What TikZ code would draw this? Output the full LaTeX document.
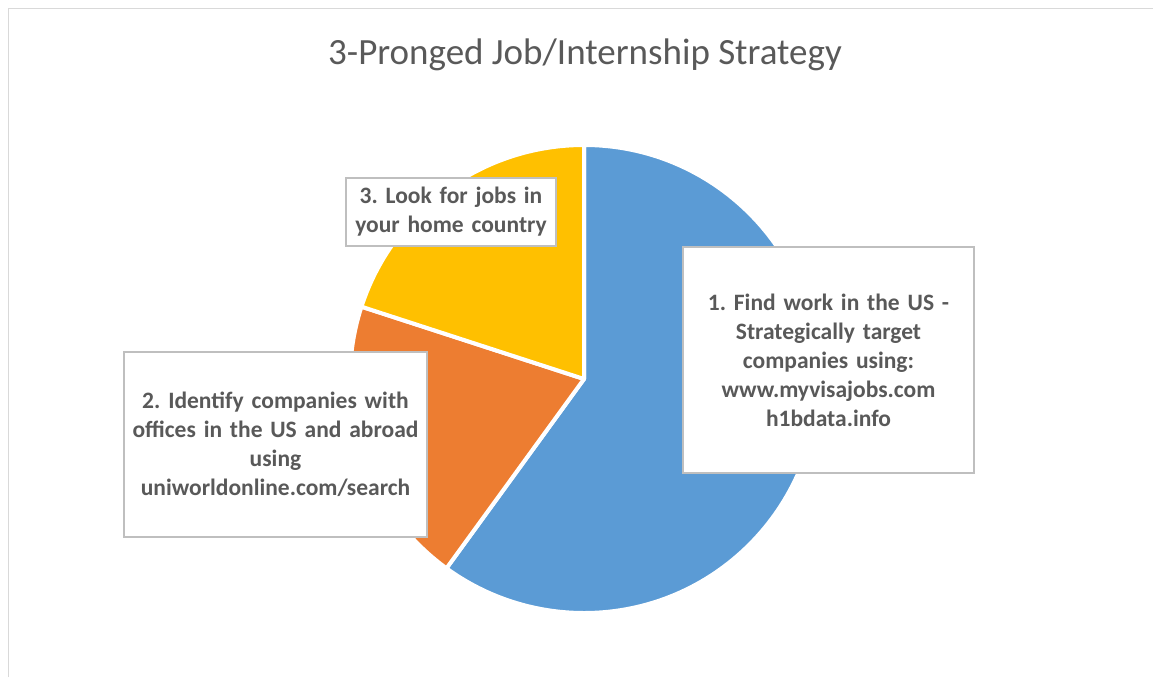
\documentclass[tikz,border=0pt]{standalone}
\usepackage{fontspec}
\setmainfont{Carlito}
\usetikzlibrary{positioning}
\frenchspacing

\definecolor{sliceblue}{HTML}{5B9BD5}
\definecolor{sliceorange}{HTML}{ED7D31}
\definecolor{sliceyellow}{HTML}{FFC000}
\definecolor{textgray}{HTML}{595959}
\definecolor{boxgray}{HTML}{BFBFBF}
\definecolor{framegray}{HTML}{D9D9D9}

\tikzset{
  slice/.style={draw=white, line width=4pt, line join=round},
  charttitle/.style={text=textgray, font=\fontsize{37}{44}\selectfont},
  lbl/.style={draw=boxgray, line width=1.5pt, fill=white, align=center,
    text=textgray, font=\bfseries\fontsize{23.5}{29}\selectfont, inner sep=0pt}
}

\begin{document}
\begin{tikzpicture}[x=1pt,y=-1pt]
\useasboundingbox (0,0) rectangle (1153,677);

% frame
\draw[framegray, line width=1.5pt] (8.5,677) -- (8.5,8.5) -- (1153,8.5);

% title
\node[charttitle] (title) at (585,55) {3-Pronged Job/Internship Strategy};

% slices
\begin{scope}[shift={(584,379)}, y=1pt]
\filldraw[slice, fill=sliceblue] (0,0) -- (90:234) arc[start angle=90, end angle=-126, radius=234] -- cycle;
\filldraw[slice, fill=sliceorange] (0,0) -- (234:234) arc[start angle=234, end angle=162, radius=234] -- cycle;
\filldraw[slice, fill=sliceyellow] (0,0) -- (162:234) arc[start angle=162, end angle=90, radius=234] -- cycle;
\end{scope}

% labels
\node[lbl, minimum width=291pt, minimum height=226pt, text width=270pt] (usa) at (828.5,360)
  {1. Find work in the US -\\ Strategically target\\ companies using:\\ www.myvisajobs.com\\ h1bdata.info};
\node[lbl, minimum width=303pt, minimum height=185pt, text width=290pt] (abroad) at (275.5,444.5)
  {2. Identify companies with\\ offices in the US and abroad\\ using\\ uniworldonline.com/search};
\node[lbl, minimum width=210pt, minimum height=68pt, text width=200pt] (home) at (451,212)
  {3. Look for jobs in\\ your home country};
\end{tikzpicture}
\end{document}
